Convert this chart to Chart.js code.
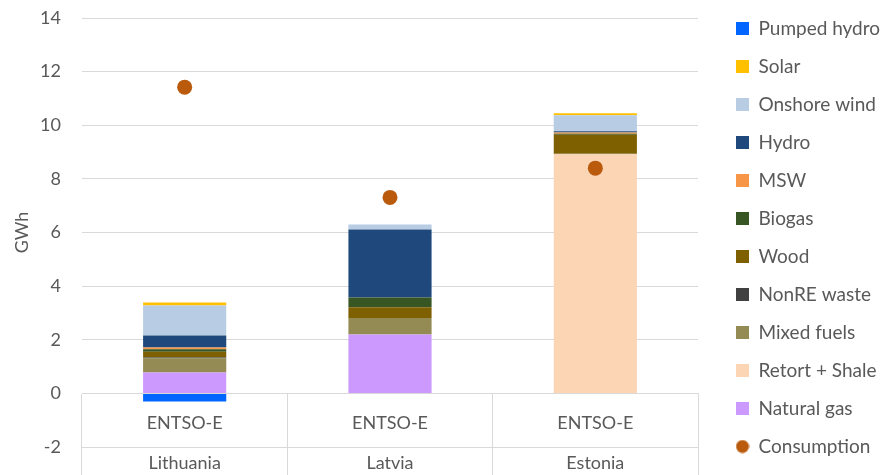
<!DOCTYPE html>
<html>
<head>
<meta charset="utf-8">
<script src="https://cdn.jsdelivr.net/npm/chart.js@4/dist/chart.umd.min.js"></script>
<style>
  html, body { margin: 0; padding: 0; background: #fff; }
  #wrap { width: 883px; height: 475px; }
</style>
</head>
<body>
<div id="wrap"><canvas id="genChart"></canvas></div>
<script>
// Electricity generation by source, GWh (Lithuania, Latvia, Estonia)
var countries = ['Lithuania', 'Latvia', 'Estonia'];
var source = 'ENTSO-E';

var naturalGas  = [0.78, 2.20, 0.00];
var retortShale = [0.00, 0.00, 8.92];
var mixedFuels  = [0.53, 0.61, 0.02];
var nonREWaste  = [0.03, 0.00, 0.00];
var wood        = [0.21, 0.40, 0.71];
var biogas      = [0.10, 0.37, 0.03];
var msw         = [0.06, 0.00, 0.05];
var hydro       = [0.45, 2.53, 0.05];
var onshoreWind = [1.12, 0.19, 0.59];
var solar       = [0.11, 0.00, 0.08];
var pumpedHydro = [-0.30, 0.00, 0.00];
var consumption = [11.42, 7.31, 8.40];

var yMin = -2, yMax = 14, yStep = 2;

var FONT = 'Lato';
var TXT = '#595959';
var GRID = '#d9d9d9';

// small round marker for the legend entry of Consumption
var dot = document.createElement('canvas');
dot.width = 14; dot.height = 14;
var dctx = dot.getContext('2d');
dctx.fillStyle = '#b95a0d';
dctx.beginPath(); dctx.arc(7, 7, 6.5, 0, Math.PI * 2); dctx.fill();

function bar(label, data, color) {
    return { type: 'bar', label: label, data: data, backgroundColor: color, borderWidth: 0,
             barPercentage: 0.405, categoryPercentage: 1 };
}

var datasets = [
    bar('Natural gas', naturalGas, '#cc99ff'),
    bar('Retort + Shale', retortShale, '#fcd5b5'),
    bar('Mixed fuels', mixedFuels, '#948a54'),
    bar('NonRE waste', nonREWaste, '#404040'),
    bar('Wood', wood, '#7f6000'),
    bar('Biogas', biogas, '#375623'),
    bar('MSW', msw, '#f79646'),
    bar('Hydro', hydro, '#1f497d'),
    bar('Onshore wind', onshoreWind, '#b8cce4'),
    bar('Solar', solar, '#ffc000'),
    bar('Pumped hydro', pumpedHydro, '#0066ff'),
    { type: 'line', label: 'Consumption', data: consumption, showLine: false, stack: 'cons', order: -1,
      pointRadius: 7.5, pointHoverRadius: 7.5, pointBackgroundColor: '#b95a0d', pointBorderWidth: 0,
      backgroundColor: '#b95a0d', borderColor: '#b95a0d' }
];

new Chart(document.getElementById('genChart').getContext('2d'), {
    data: {
        labels: countries.map(function (c) { return [source, c]; }),
        datasets: datasets
    },
    options: {
        responsive: true, maintainAspectRatio: false, animation: false,
        layout: { padding: 0 },
        plugins: {
            tooltip: { enabled: false },
            legend: {
                position: 'right',
                maxWidth: 166,
                labels: {
                    usePointStyle: true, boxWidth: 13, boxHeight: 13, padding: 19,
                    color: TXT, font: { family: FONT, size: 19 },
                    generateLabels: function (chart) {
                        var items = Chart.defaults.plugins.legend.labels.generateLabels(chart);
                        items.forEach(function (it) {
                            it.pointStyle = it.text === 'Consumption' ? dot : 'rect';
                            it.lineWidth = 0;
                        });
                        return items;
                    },
                    sort: function (a, b) {
                        var ka = a.text === 'Consumption' ? 99 : -a.datasetIndex;
                        var kb = b.text === 'Consumption' ? 99 : -b.datasetIndex;
                        return ka - kb;
                    }
                }
            }
        },
        scales: {
            x: {
                stacked: true,
                position: { y: 0 },
                offset: true,
                grid: { offset: true, drawOnChartArea: false, drawTicks: true, tickLength: 82, color: GRID },
                border: { color: GRID },
                ticks: { padding: -73, color: TXT, maxRotation: 0, autoSkip: false,
                         font: { family: FONT, size: 18, lineHeight: 2.27 } }
            },
            y: {
                stacked: true,
                min: yMin, max: yMax,
                grid: { color: GRID, drawTicks: false },
                border: { display: false },
                ticks: { stepSize: yStep, padding: 21, color: TXT, font: { family: FONT, size: 18 } },
                title: { display: true, text: 'GWh', color: TXT, font: { family: FONT, size: 18 }, padding: { top: 11, bottom: 0 } },
                afterFit: function (s) { s.width = 82; s.paddingTop = 18; s.paddingBottom = 28; }
            },
            // empty strip between the plot and the legend
            gap: {
                position: 'right',
                grid: { display: false }, border: { display: false }, ticks: { display: false },
                afterFit: function (s) { s.width = 19; s.paddingTop = 0; s.paddingBottom = 0; }
            }
        }
    }
});
</script>
</body>
</html>
